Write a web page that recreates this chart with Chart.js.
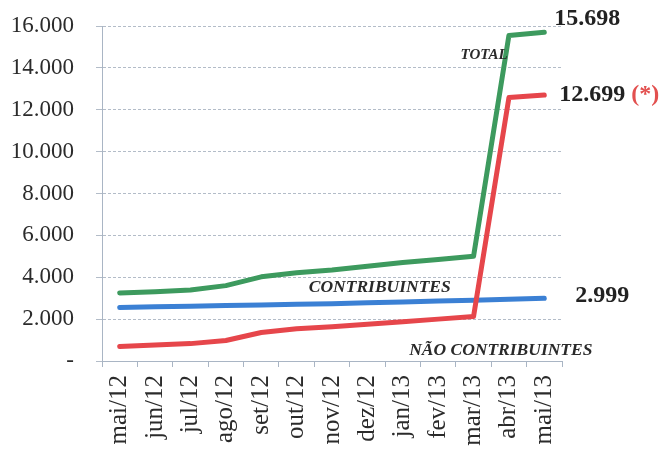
<!DOCTYPE html>
<html>
<head>
<meta charset="utf-8">
<script src="https://cdn.jsdelivr.net/npm/chart.js@4.4.1/dist/chart.umd.min.js"></script>
<style>
  html, body { margin: 0; padding: 0; background: #fff; }
  #wrap { width: 664px; height: 450px; }
</style>
</head>
<body>
<div id="wrap"><canvas id="c" width="664" height="450"></canvas></div>
<script>
const months = ['mai/12', 'jun/12', 'jul/12', 'ago/12', 'set/12', 'out/12', 'nov/12',
                'dez/12', 'jan/13', 'fev/13', 'mar/13', 'abr/13', 'mai/13'];
const total = [3250, 3310, 3390, 3600, 4020, 4210, 4350, 4530, 4700, 4850, 5000, 15550, 15698];
const naoContribuintes = [690, 760, 830, 980, 1360, 1540, 1640, 1760, 1880, 2000, 2120, 12580, 12699];
const contribuintes = [2550, 2590, 2620, 2650, 2680, 2710, 2740, 2780, 2820, 2860, 2900, 2950, 2999];
const yTicks = [0, 2000, 4000, 6000, 8000, 10000, 12000, 14000, 16000];

const serif = "'Liberation Serif', 'DejaVu Serif', serif";

function fmt(v) {
    if (v === 0) return '-';
    return String(v).replace(/\B(?=(\d{3})+(?!\d))/g, '.');
}

// Text annotations drawn on top of the lines
const labelsPlugin = {
    id: 'labels',
    afterDatasetsDraw(chart) {
        const ctx = chart.ctx;
        const x = chart.scales.x, y = chart.scales.y;
        const last = months.length - 1;
        ctx.save();
        ctx.textBaseline = 'middle';
        ctx.textAlign = 'left';

        // end values
        ctx.fillStyle = '#222';
        ctx.font = 'bold 24px ' + serif;
        ctx.fillText(fmt(total[last]), x.getPixelForValue(last) + 10, y.getPixelForValue(total[last]) - 14);
        const t = fmt(naoContribuintes[last]);
        const px = x.getPixelForValue(last) + 15, py = y.getPixelForValue(naoContribuintes[last]);
        ctx.fillText(t, px, py);
        const w = ctx.measureText(t + ' ').width;
        ctx.fillStyle = '#e2504f';
        ctx.fillText('(*)', px + w, py);
        ctx.fillStyle = '#222';
        ctx.fillText(fmt(contribuintes[last]), x.getPixelForValue(last) + 31, y.getPixelForValue(contribuintes[last]) - 2);

        // series names
        ctx.textAlign = 'center';
        ctx.fillStyle = '#2a2a2a';
        ctx.font = 'italic bold 15px ' + serif;
        ctx.fillText('TOTAL', x.getPixelForValue(10.3), y.getPixelForValue(14600));
        ctx.font = 'italic bold 17.5px ' + serif;
        ctx.fillText('CONTRIBUINTES', x.getPixelForValue(7.35), y.getPixelForValue(3530));
        ctx.fillText('NÃO CONTRIBUINTES', x.getPixelForValue(10.77), y.getPixelForValue(520));
        ctx.restore();
    }
};

new Chart(document.getElementById('c').getContext('2d'), {
    type: 'line',
    data: {
        labels: months,
        datasets: [
            { label: 'TOTAL', data: total, borderColor: '#3d9a5e' },
            { label: 'NÃO CONTRIBUINTES', data: naoContribuintes, borderColor: '#e6464b' },
            { label: 'CONTRIBUINTES', data: contribuintes, borderColor: '#3b80d4' }
        ]
    },
    plugins: [labelsPlugin],
    options: {
        responsive: false,
        animation: false,
        layout: { padding: { left: 4, right: 102, top: 26, bottom: 4 } },
        datasets: {
            line: {
                borderWidth: 5,
                pointRadius: 0,
                tension: 0,
                borderCapStyle: 'round',
                borderJoinStyle: 'round'
            }
        },
        plugins: { legend: { display: false }, tooltip: { enabled: false } },
        scales: {
            x: {
                offset: true,
                grid: {
                    offset: true,
                    drawOnChartArea: false,
                    drawTicks: true,
                    tickLength: 6,
                    color: '#a9b5c4'
                },
                border: { color: '#a9b5c4', width: 1 },
                ticks: {
                    minRotation: 90,
                    maxRotation: 90,
                    autoSkip: false,
                    padding: 8,
                    color: '#2b2b2b',
                    font: { family: serif, size: 25 }
                },
                afterFit(s) {
                    s.height = 450 - 361 - 4;
                    s.paddingLeft = 0; s.paddingRight = 0; s.paddingTop = 0; s.paddingBottom = 0;
                }
            },
            y: {
                min: 0,
                max: 16000,
                afterBuildTicks(s) { s.ticks = yTicks.map(v => ({ value: v })); },
                grid: {
                    color: '#b3bcc8',
                    tickLength: 6,
                    drawTicks: true
                },
                border: { color: '#a9b5c4', width: 1, dash: [3, 2] },
                ticks: {
                    padding: 22,
                    color: '#2b2b2b',
                    font: { family: serif, size: 23 },
                    callback: v => fmt(v)
                },
                afterFit(s) {
                    s.width = 102 - 4;
                    s.paddingLeft = 0; s.paddingRight = 0; s.paddingTop = 0; s.paddingBottom = 0;
                }
            }
        }
    }
});
</script>
</body>
</html>
